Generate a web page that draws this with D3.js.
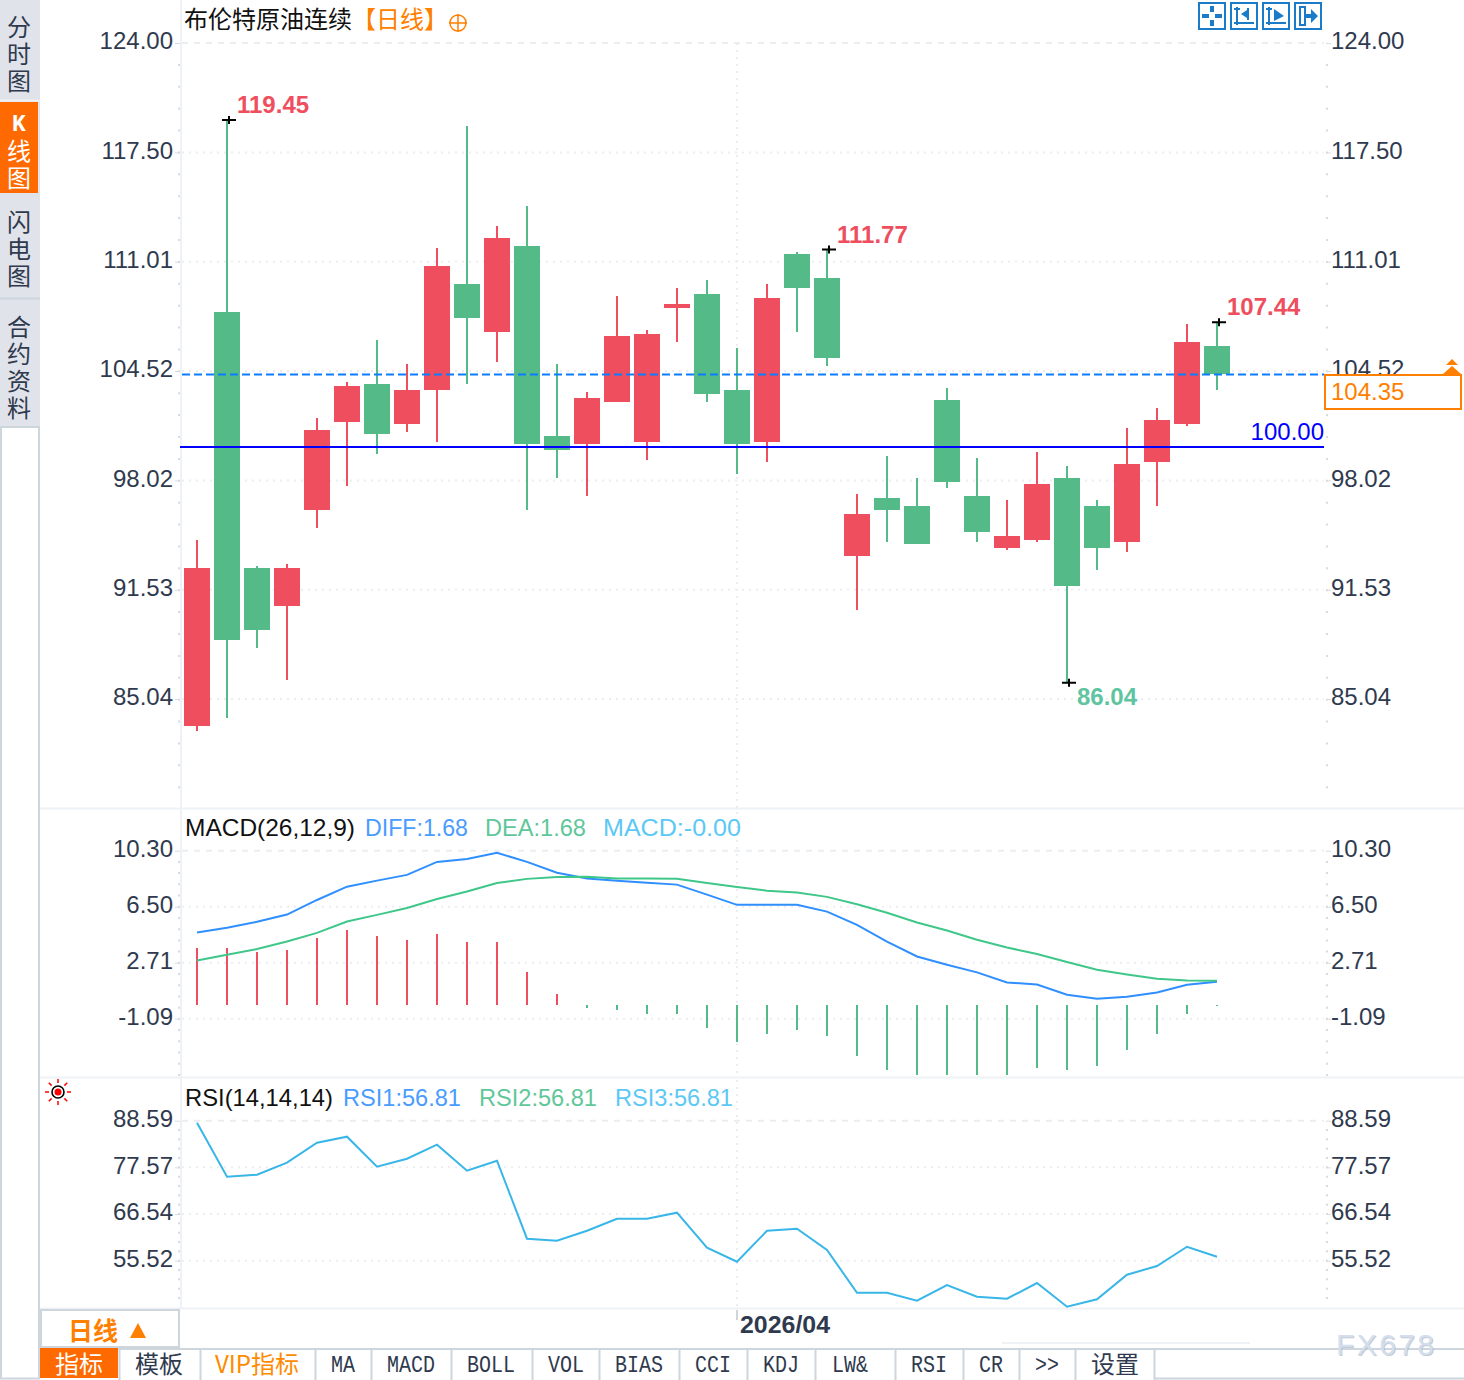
<!DOCTYPE html>
<html>
<head>
<meta charset="utf-8">
<script src="https://cdn.jsdelivr.net/npm/d3@7"></script>
<style>
  html, body { margin: 0; padding: 0; background: #fff; }
  svg { display: block; }
  text { font-family: "Liberation Sans", sans-serif; font-size: 24px; }
  .cjk { font-family: "Noto Sans CJK SC", sans-serif; }
  .mono { font-family: "Liberation Mono", monospace; font-size: 23px; }
  .axis path { display: none; }
  .axis text { fill: #2f3a4e; font-family: "Liberation Sans", sans-serif; font-size: 24px; }
  .axis line { stroke: #d5dce3; }
  .minor line { stroke: #d5dce3; stroke-width: 2; }
</style>
</head>
<body>
<div id="chart"></div>
<script>
// -------------------- DATA --------------------
const opens  = [83.44,108.03,92.82,90.57,96.27,101.49,103.75,101.38,103.39,109.69,106.84,111.95,100.66,100.19,102.68,100.31,108.26,109.10,103.39,100.31,111.47,110.05,93.54,96.98,96.51,102.80,97.10,94.01,94.49,98.17,96.51,94.37,99.12,101.38,106.01];
const closes = [92.82,88.55,89.14,92.82,101.02,103.63,100.78,103.39,110.76,107.67,112.42,100.19,99.83,102.92,106.60,106.72,108.50,103.16,100.19,108.86,109.45,105.29,96.03,96.27,94.25,97.93,94.96,94.72,97.81,91.76,94.01,99.00,101.61,106.24,104.35];
const highs  = [94.49,119.45,92.94,93.06,101.73,103.87,106.36,104.94,111.83,119.07,113.13,114.32,104.94,103.28,108.98,106.96,109.45,109.93,105.89,109.69,111.59,111.77,97.22,99.48,98.17,103.51,99.36,96.86,99.71,98.88,96.86,101.14,102.33,107.31,107.44];
const lows   = [83.12,83.92,88.07,86.17,95.20,97.69,99.59,100.90,100.31,103.75,105.06,96.27,98.17,97.10,102.68,99.24,106.24,102.68,98.41,99.12,106.84,104.82,90.33,94.37,94.25,97.57,94.37,93.89,94.37,86.04,92.71,93.77,96.51,101.26,103.39];

const diffs = [4.75,5.07,5.48,5.97,6.96,7.86,8.27,8.66,9.54,9.74,10.16,9.54,8.81,8.41,8.27,8.13,8.00,7.32,6.63,6.63,6.63,6.17,5.27,4.14,3.13,2.57,2.05,1.37,1.23,0.54,0.27,0.40,0.69,1.21,1.42];
const deas  = [2.86,3.24,3.63,4.14,4.73,5.50,5.95,6.42,7.03,7.53,8.11,8.39,8.52,8.54,8.41,8.41,8.39,8.11,7.84,7.59,7.46,7.17,6.67,6.09,5.43,4.89,4.26,3.74,3.29,2.75,2.23,1.91,1.62,1.50,1.48];
const macdBars = [3.86,3.86,3.59,3.72,4.53,5.07,4.67,4.40,4.80,4.26,4.26,2.23,0.74,-0.20,-0.34,-0.61,-0.61,-1.56,-2.50,-1.96,-1.69,-2.10,-3.45,-4.40,-4.80,-4.80,-4.80,-4.80,-4.26,-4.40,-4.13,-3.04,-1.96,-0.61,-0.07];
const macdBase = -0.14;

const rsiValues = [88.12,75.36,75.83,78.67,83.39,84.81,77.72,79.61,82.92,76.78,79.14,60.71,60.24,62.60,65.44,65.44,66.86,58.59,55.28,62.60,63.08,58.04,47.96,47.96,46.07,49.78,47.01,46.54,50.25,44.65,46.40,52.21,54.26,58.82,56.46];

const priceTicks = [124.00,117.50,111.01,104.52,98.02,91.53,85.04];
const macdTicks  = [10.30,6.50,2.71,-1.09];
const rsiTicks   = [88.59,77.57,66.54,55.52];

const lastPrice = 104.35;
const refPrice = 100.00;
const monthIndex = 18;
const monthLabel = "2026/04";

// which candles get a high/low note
const priceNotes = [
  { i: 1,  value: 119.45, dx: 9,  dy: -7,  color: "#ee4e5e" },
  { i: 21, value: 111.77, dx: 9,  dy: -6,  color: "#ee4e5e" },
  { i: 34, value: 107.44, dx: 9,  dy: -7,  color: "#ee4e5e" },
  { i: 29, value: 86.04,  dx: 9,  dy: 23,  color: "#5fc4a0" }
];

const tabs = [
  { label: "指标", x: 79, cjk: true, color: "#fff" },
  { label: "模板", x: 159, cjk: true, color: "#2f3a4e" },
  { label: "VIP指标", x: 257, cjk: true, color: "#ff8a00" },
  { label: "MA", x: 343 }, { label: "MACD", x: 411 }, { label: "BOLL", x: 491 },
  { label: "VOL", x: 566 }, { label: "BIAS", x: 639 }, { label: "CCI", x: 713 },
  { label: "KDJ", x: 781 }, { label: "LW&", x: 850 }, { label: "RSI", x: 929 },
  { label: "CR", x: 991 }, { label: ">>", x: 1047 }, { label: "设置", x: 1115, cjk: true, color: "#2f3a4e" }
];
const tabEdges = [119, 200, 315, 371, 451, 532, 599, 679, 747, 815, 895, 963, 1019, 1075, 1154];

const sideTabs = [
  { chars: ["分", "时", "图"], top: 27 },
  { chars: ["K", "线", "图"], top: 124, active: true },
  { chars: ["闪", "电", "图"], top: 222 },
  { chars: ["合", "约", "资", "料"], top: 327 }
];

// -------------------- SETUP --------------------
const W = 1464, H = 1380;
const red = "#ee4e5e", green = "#53ba88", orange = "#ff7f00", ink = "#2f3a4e";
const sepColor = "#eef2f6", borderColor = "#cdd5dd", gridColor = "#ebeef1";
const leftX = 180, rightX = 1326, plotRight = 1324;

const svg = d3.select("#chart").append("svg").attr("width", W).attr("height", H);

const x = d3.scaleLinear().domain([0, opens.length - 1]).range([197, 1217]);
const yPrice = d3.scaleLinear().domain([124.00, 85.04]).range([43, 699]);
const yMacd = d3.scaleLinear().domain([10.30, -1.09]).range([850.7, 1018.7]);
const yRsi = d3.scaleLinear().domain([88.59, 55.52]).range([1120.7, 1260.7]);

// -------------------- FRAME --------------------
function hline(y, x1, x2, color, w) {
  svg.append("line").attr("x1", x1).attr("x2", x2).attr("y1", y).attr("y2", y)
    .attr("stroke", color).attr("stroke-width", w || 2);
}
function vline(xp, y1, y2, color, w, dash) {
  svg.append("line").attr("x1", xp).attr("x2", xp).attr("y1", y1).attr("y2", y2)
    .attr("stroke", color).attr("stroke-width", w || 2).attr("stroke-dasharray", dash || null);
}

hline(808.5, 40, W, sepColor);
hline(1077.5, 40, W, sepColor);
hline(1308.5, 40, W, sepColor);
vline(181, 0, 1308, sepColor);
vline(737, 43, 808, gridColor, 2, "2 5");
vline(737, 812, 1076, gridColor, 2, "2 5");
vline(737, 1080, 1308, gridColor, 2, "2 5");

// left side tabs
svg.append("rect").attr("x", 0).attr("y", 0).attr("width", 40).attr("height", 427).attr("fill", "#e1e3ea");
svg.append("rect").attr("x", 0).attr("y", 102).attr("width", 38).attr("height", 91).attr("fill", "#ff6a00");
hline(298.5, 0, 40, borderColor, 2);
hline(100.5, 0, 40, "#eef0f4", 2);
vline(1, 427, 1378, borderColor, 2);
vline(39, 427, 1378, borderColor, 2);
hline(427, 0, 40, borderColor, 2);
hline(1378.5, 0, 40, borderColor, 2);

sideTabs.forEach(t => {
  t.chars.forEach((c, k) => {
    const isLatin = c === "K";
    svg.append("text").attr("class", isLatin ? "mono" : "cjk")
      .attr("x", 19).attr("y", t.top + k * 27 + (isLatin ? 7 : 9))
      .attr("text-anchor", "middle")
      .attr("font-weight", isLatin ? "bold" : null)
      .attr("fill", t.active ? "#fff" : ink).text(c);
  });
});

// -------------------- AXES --------------------
function drawAxes(scale, ticks, y1, y2) {
  const minors = [];
  const dy = Math.abs(scale(ticks[1]) - scale(ticks[0])) / 5;
  for (let p = scale(ticks[0]); p < y2; p += dy) minors.push(p);
  [leftX - 1, rightX + 1].forEach(xp => {
    svg.append("g").attr("class", "minor").selectAll("line")
      .data(minors.filter(p => p > y1))
      .join("line")
      .attr("x1", xp - 1).attr("x2", xp + 1).attr("y1", d => d).attr("y2", d => d);
  });

  const fmt = d => d.toFixed(2);
  const axisL = svg.append("g").attr("class", "axis").attr("transform", `translate(${leftX},0)`)
    .call(d3.axisLeft(scale).tickValues(ticks).tickSize(5).tickPadding(2).tickFormat(fmt));
  const axisR = svg.append("g").attr("class", "axis").attr("transform", `translate(${rightX},0)`)
    .call(d3.axisRight(scale).tickValues(ticks).tickSize(5).tickPadding(0).tickFormat(fmt));
  // labels sit a little above their grid line
  axisL.selectAll("text").attr("dy", "0.24em");
  axisR.selectAll("text").attr("dy", "0.24em");

  svg.append("g").selectAll("line").data(ticks).join("line")
    .attr("x1", leftX + 2).attr("x2", plotRight)
    .attr("y1", d => scale(d)).attr("y2", d => scale(d))
    .attr("stroke", gridColor).attr("stroke-width", 2)
    .attr("stroke-dasharray", (d, i) => i === 0 ? "6 6" : "2 5");
}
drawAxes(yPrice, priceTicks, 44, 806);
drawAxes(yMacd, macdTicks, 851, 1076);
drawAxes(yRsi, rsiTicks, 1121, 1306);

// -------------------- CANDLES --------------------
const candles = svg.append("g").attr("shape-rendering", "crispEdges");
const candleColor = i => closes[i] >= opens[i] ? red : green;

candles.selectAll("rect.wick").data(d3.range(opens.length)).join("rect")
  .attr("class", "wick")
  .attr("x", i => x(i) - 1).attr("width", 2)
  .attr("y", i => yPrice(highs[i]))
  .attr("height", i => yPrice(lows[i]) - yPrice(highs[i]))
  .attr("fill", candleColor);

candles.selectAll("rect.body").data(d3.range(opens.length)).join("rect")
  .attr("class", "body")
  .attr("x", i => x(i) - 13).attr("width", 26)
  .attr("y", i => yPrice(Math.max(opens[i], closes[i])))
  .attr("height", i => Math.abs(yPrice(opens[i]) - yPrice(closes[i])))
  .attr("fill", candleColor);

// dashed last price line and the 100 line sit over the candles
svg.append("line").attr("x1", leftX + 2).attr("x2", plotRight)
  .attr("y1", yPrice(lastPrice) + 0.7).attr("y2", yPrice(lastPrice) + 0.7)
  .attr("stroke", "#0a7cff").attr("stroke-width", 2).attr("stroke-dasharray", "8 4");

svg.append("line").attr("x1", leftX).attr("x2", plotRight)
  .attr("y1", yPrice(refPrice)).attr("y2", yPrice(refPrice))
  .attr("stroke", "#0000ff").attr("stroke-width", 2);
svg.append("text").attr("x", plotRight).attr("y", yPrice(refPrice) - 7)
  .attr("text-anchor", "end").attr("fill", "#0000ff").text(refPrice.toFixed(2));

priceNotes.forEach(n => {
  const px = x(n.i), py = yPrice(n.value);
  svg.append("path").attr("d", `M${px - 5},${py + 0.5}H${px + 9}M${px + 2},${py - 3.5}V${py + 4.5}`)
    .attr("stroke", "#000").attr("stroke-width", 2).attr("fill", "none");
  svg.append("text").attr("x", px + n.dx + 1).attr("y", py + n.dy)
    .attr("fill", n.color).attr("font-weight", "bold").text(n.value.toFixed(2));
});

// last price box
svg.append("rect").attr("x", 1325).attr("y", 375).attr("width", 136).attr("height", 34)
  .attr("fill", "#fff").attr("stroke", orange).attr("stroke-width", 2);
svg.append("text").attr("x", 1331).attr("y", 400).attr("fill", orange).text(lastPrice.toFixed(2));
svg.append("path").attr("fill", orange)
  .attr("d", "M1452,359l6,6h-12zM1452,366l9,8h-18z");

// -------------------- MACD --------------------
svg.append("g").attr("shape-rendering", "crispEdges")
  .selectAll("rect").data(macdBars).join("rect")
  .attr("x", (d, i) => x(i) - 1).attr("width", 2)
  .attr("y", d => d > 0 ? yMacd(macdBase + d) : yMacd(macdBase))
  .attr("height", d => Math.abs(yMacd(macdBase + d) - yMacd(macdBase)))
  .attr("fill", d => d > 0 ? red : green);

const macdLine = d3.line().x((d, i) => x(i)).y(d => yMacd(d));
svg.append("path").datum(diffs).attr("d", macdLine).attr("fill", "none").attr("stroke", "#2f8fff").attr("stroke-width", 2);
svg.append("path").datum(deas).attr("d", macdLine).attr("fill", "none").attr("stroke", "#3fc78a").attr("stroke-width", 2);

// -------------------- RSI --------------------
const rsiLine = d3.line().x((d, i) => x(i)).y(d => yRsi(d));
svg.append("path").datum(rsiValues).attr("d", rsiLine).attr("fill", "none").attr("stroke", "#38b6e8").attr("stroke-width", 2);

// -------------------- TITLES --------------------
function label(str, xp, yp, color, cls, width) {
  const t = svg.append("text").attr("x", xp).attr("y", yp).attr("fill", color).attr("class", cls || null).text(str);
  if (width) t.attr("textLength", width).attr("lengthAdjust", "spacingAndGlyphs");
  return t;
}
label("布伦特原油连续", 184, 28, "#111", "cjk");
label("【日线】", 352, 28, orange, "cjk");
svg.append("circle").attr("cx", 458).attr("cy", 23).attr("r", 8).attr("fill", "none").attr("stroke", orange).attr("stroke-width", 1.5);
svg.append("path").attr("d", "M449,23h18M458,14v18").attr("stroke", orange).attr("stroke-width", 1.5);

label("MACD(26,12,9)", 185, 836, "#111", null, 170);
label("DIFF:1.68", 365, 836, "#4a9cff", null, 103);
label("DEA:1.68", 485, 836, "#5fc79a", null, 101);
label("MACD:-0.00", 603, 836, "#5cc8f5", null, 138);

label("RSI(14,14,14)", 185, 1106, "#111", null, 148);
label("RSI1:56.81", 343, 1106, "#4a9cff", null, 118);
label("RSI2:56.81", 479, 1106, "#5fc79a", null, 118);
label("RSI3:56.81", 615, 1106, "#5cc8f5", null, 118);

// toolbar icons, top right
const iconBlue = "#1a7cc8";
[1199, 1231, 1263, 1295].forEach(ix => {
  svg.append("rect").attr("x", ix).attr("y", 3).attr("width", 26).attr("height", 26)
    .attr("fill", "#fff").attr("stroke", iconBlue).attr("stroke-width", 2);
});
svg.append("path").attr("fill", iconBlue)
  .attr("d", "M1210,6h4v6h-4zM1210,20h4v6h-4zM1202,14h7v4h-7zM1215,14h7v4h-7z");
svg.append("path").attr("fill", "none").attr("stroke", iconBlue).attr("stroke-width", 2)
  .attr("d", "M1237,7V25M1234,9h6M1234,23H1254M1248,8V20");
svg.append("path").attr("fill", iconBlue).attr("d", "M1247,10l-6,4l6,4z");
svg.append("path").attr("fill", "none").attr("stroke", iconBlue).attr("stroke-width", 2)
  .attr("d", "M1269,7V25M1266,9h6M1266,23H1286");
svg.append("path").attr("fill", iconBlue).attr("d", "M1274,9l10,7l-10,5z");
svg.append("path").attr("fill", "none").attr("stroke", iconBlue).attr("stroke-width", 2)
  .attr("d", "M1300,7h5v18h-5z");
svg.append("path").attr("fill", iconBlue).attr("d", "M1306,14h5v-5l7,7l-7,7v-5h-5z");

// sun icon next to the RSI pane
const sun = svg.append("g").attr("transform", "translate(58,1092)");
sun.append("circle").attr("r", 6).attr("fill", "#fff").attr("stroke", "#000").attr("stroke-width", 1.6);
sun.append("circle").attr("r", 3.5).attr("fill", "#f00");
d3.range(8).forEach(k => {
  const a = k * Math.PI / 4;
  sun.append("line").attr("x1", Math.cos(a) * 9).attr("y1", Math.sin(a) * 9)
    .attr("x2", Math.cos(a) * 13).attr("y2", Math.sin(a) * 13)
    .attr("stroke", "#f00").attr("stroke-width", 1.5);
});

// -------------------- BOTTOM BAR --------------------
svg.append("rect").attr("x", 41).attr("y", 1310).attr("width", 138).attr("height", 37)
  .attr("fill", "#fff").attr("stroke", borderColor).attr("stroke-width", 2);
svg.append("text").attr("class", "cjk").attr("x", 68).attr("y", 1340).attr("fill", orange)
  .attr("font-weight", "bold").style("font-size", "25px").text("日线");
svg.append("path").attr("d", "M138,1323l8,15h-16z").attr("fill", orange);

vline(737, 1310, 1320, borderColor, 2);
svg.append("text").attr("x", x(monthIndex) + 3).attr("y", 1333).attr("fill", ink)
  .attr("font-weight", "bold").attr("textLength", 90).attr("lengthAdjust", "spacingAndGlyphs").text(monthLabel);
hline(1343, 1002, 1250, sepColor, 2);

hline(1349, 40, W, borderColor, 2);
svg.append("rect").attr("x", 40).attr("y", 1348).attr("width", 78).attr("height", 30).attr("fill", "#ff6a00");
tabEdges.forEach(e => vline(e + 0.5, 1350, 1380, borderColor, 2));
hline(1378.5, 1154, W, borderColor, 2);

svg.append("g").selectAll("text").data(tabs).join("text")
  .attr("class", d => d.cjk ? "cjk" : "mono")
  .attr("x", d => d.x).attr("y", d => d.cjk ? 1373 : 1372)
  .attr("text-anchor", "middle")
  .attr("fill", d => d.color || ink)
  .attr("textLength", d => d.cjk ? null : d.label.length * 12)
  .attr("lengthAdjust", d => d.cjk ? null : "spacingAndGlyphs")
  .text(d => d.label);

// watermark, with a soft grey edge
svg.append("text").attr("x", 1337).attr("y", 1356).attr("fill", "#aeb6c0").attr("opacity", 0.7)
  .style("font-size", "30px").style("letter-spacing", "2.4px").text("FX678");
svg.append("text").attr("x", 1336).attr("y", 1355).attr("fill", "#d3deee")
  .style("font-size", "30px").style("letter-spacing", "2.4px").text("FX678");
</script>
</body>
</html>
